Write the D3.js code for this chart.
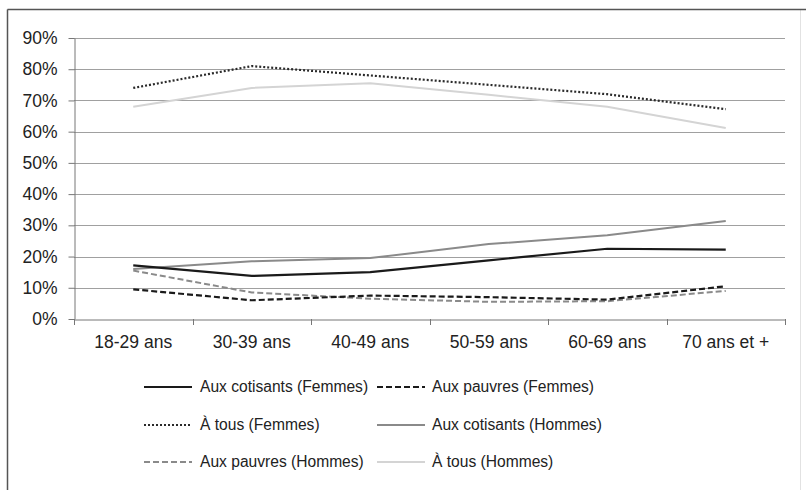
<!DOCTYPE html>
<html><head><meta charset="utf-8">
<script src="https://cdn.jsdelivr.net/npm/d3@7"></script>
<style>body{margin:0;background:#fff}text{font-family:"Liberation Sans",Arial,sans-serif}</style>
</head><body><svg id="c" width="806" height="490"></svg>
<script>
const categories = ["18-29 ans","30-39 ans","40-49 ans","50-59 ans","60-69 ans","70 ans et +"];
const yTicks = [0,0.1,0.2,0.3,0.4,0.5,0.6,0.7,0.8,0.9];
const cotisantsFemmes = [0.172,0.138,0.150,0.188,0.225,0.222];
const pauvresFemmes   = [0.095,0.060,0.075,0.070,0.062,0.105];
const tousFemmes      = [0.740,0.810,0.780,0.750,0.720,0.672];
const cotisantsHommes = [0.160,0.185,0.195,0.240,0.268,0.314];
const pauvresHommes   = [0.155,0.085,0.065,0.055,0.057,0.090];
const tousHommes      = [0.680,0.740,0.755,0.718,0.680,0.612];

const series = [
  {name:"Aux cotisants (Femmes)", values:cotisantsFemmes, color:"#1a1a1a", width:2.2, dash:null},
  {name:"Aux pauvres (Femmes)", values:pauvresFemmes, color:"#1a1a1a", width:2.2, dash:"6,3"},
  {name:"À tous (Femmes)", values:tousFemmes, color:"#2a2a2a", width:2.2, dash:"2,2"},
  {name:"Aux cotisants (Hommes)", values:cotisantsHommes, color:"#8a8a8a", width:2, dash:null},
  {name:"Aux pauvres (Hommes)", values:pauvresHommes, color:"#8a8a8a", width:2, dash:"6,3"},
  {name:"À tous (Hommes)", values:tousHommes, color:"#d4d4d4", width:2, dash:null}
];

const svg = d3.select("#c");
const FONT = "Liberation Sans, Arial, sans-serif";
// frame
svg.append("rect").attr("x",7.5).attr("y",9.5).attr("width",793).attr("height",485)
  .attr("fill","none").attr("stroke","#e2e2e2");
svg.append("line").attr("x1",7.5).attr("x2",806).attr("y1",9.5).attr("y2",9.5).attr("stroke","#555").attr("stroke-width",1.5);
svg.append("line").attr("x1",7.5).attr("x2",7.5).attr("y1",9.5).attr("y2",490).attr("stroke","#555").attr("stroke-width",1.5);

const x = d3.scaleBand().domain(categories).range([74,785]);
const y = d3.scaleLinear().domain([0,0.9]).range([319,38]);

// gridlines
svg.append("g").selectAll("line").data(yTicks.filter(d=>d>0)).join("line")
  .attr("x1",74).attr("x2",785).attr("y1",d=>Math.round(y(d))+0.5).attr("y2",d=>Math.round(y(d))+0.5)
  .attr("stroke","#a0a0a0").attr("stroke-width",1);

// y axis
const yAxis = d3.axisLeft(y).tickValues(yTicks).tickFormat(d3.format(".0%")).tickSize(6).tickSizeOuter(0);
const gy = svg.append("g").attr("transform","translate(74.5,0)").call(yAxis);
gy.select(".domain").attr("stroke","#777");
gy.selectAll(".tick line").attr("stroke","#777");
gy.selectAll(".tick text").attr("font-size",17.5).attr("fill","#222").attr("x",-17).attr("font-family",FONT);

// x axis
const xAxis = d3.axisBottom(x).tickSize(0).tickSizeOuter(0);
const gx = svg.append("g").attr("transform","translate(0,319.5)").call(xAxis);
gx.select(".domain").attr("stroke","#777");
gx.selectAll(".tick text").attr("font-size",17.5).attr("fill","#222").attr("y",0).attr("dy","0").attr("transform","translate(0,28.5)").attr("font-family",FONT);
// boundary ticks
const bounds = categories.map(c=>x(c)).concat([x.range()[1]]);
svg.append("g").selectAll("line").data(bounds).join("line")
  .attr("x1",d=>Math.round(d)+0.5).attr("x2",d=>Math.round(d)+0.5).attr("y1",319).attr("y2",325)
  .attr("stroke","#777");

// lines
const line = d3.line().x((d,i)=>x(categories[i])+x.bandwidth()/2).y(d=>y(d));
const drawOrder = [5,3,4,1,0,2];
drawOrder.forEach(k=>{
  const s = series[k];
  svg.append("path").datum(s.values).attr("d",line).attr("fill","none")
    .attr("stroke",s.color).attr("stroke-width",s.width)
    .attr("stroke-dasharray",s.dash);
});

// legend
const legX = [144,377], legTextX = [200,432], legY = [387,425,462];
series.forEach((s,i)=>{
  const col = i%2, row = Math.floor(i/2);
  const g = svg.append("g");
  g.append("line").attr("x1",legX[col]).attr("x2",legX[col]+48).attr("y1",legY[row]).attr("y2",legY[row])
    .attr("stroke",s.color).attr("stroke-width",s.width).attr("stroke-dasharray",s.dash);
  g.append("text").attr("x",legTextX[col]).attr("y",legY[row]).attr("dy","0.35em")
    .attr("font-size",15.6).attr("fill","#222").text(s.name);
});
</script></body></html>
